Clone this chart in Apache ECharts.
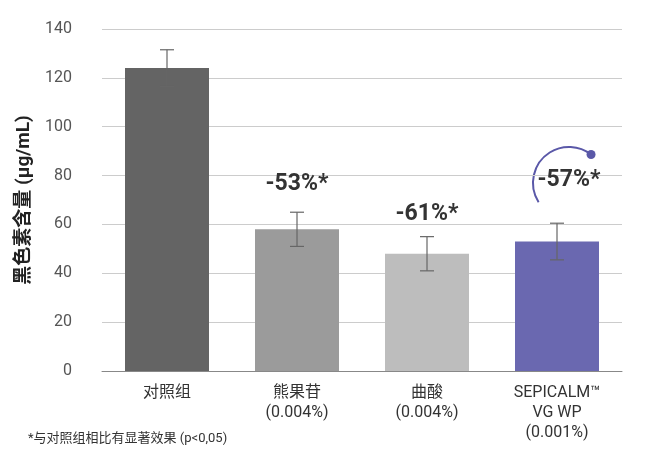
<!DOCTYPE html>
<html><head><meta charset="utf-8">
<script src="https://cdn.jsdelivr.net/npm/echarts@6/dist/echarts.min.js"></script>
<style>html,body{margin:0;background:#fff}#c{width:660px;height:470px}</style></head>
<body><div id="c"></div>
<script>
const categories = ['对照组', '熊果苷\n(0.004%)', '曲酸\n(0.004%)', 'SEPICALM™\nVG WP\n(0.001%)'];
const values = [124, 58, 48, 53];
const errors = [7.5, 7, 7, 7.5];
const labels = ['', '-53%*', '-61%*', '-57%*'];
const colors = ['#646464', '#9b9b9b', '#bdbdbd', '#6a68b0'];
const labelGap = [0, 34, 28, 50];
const labelShift = [0, 0, 0, 12];
const yTicks = [0, 20, 40, 60, 80, 100, 120, 140];

const chart = echarts.init(document.getElementById('c'));
const font = 'Roboto, "Noto Sans CJK SC", sans-serif';
chart.setOption({
  animation: false,
  grid: {left: 102, right: 38, top: 29, bottom: 99},
  xAxis: {type: 'category', data: categories,
    axisLine: {lineStyle: {color: '#888'}}, axisTick: {show: false},
    axisLabel: {color: '#333', fontSize: 16, fontFamily: font, lineHeight: 20, margin: 12}},
  yAxis: {type: 'value', min: 0, max: 140, interval: 20,
    name: '黑色素含量 (µg/mL)', nameLocation: 'middle', nameGap: 66,
    nameTextStyle: {fontSize: 19, fontWeight: 'bold', color: '#222', fontFamily: font},
    axisLabel: {color: '#555', fontSize: 16, fontFamily: font, margin: 30, formatter: v => yTicks.includes(v) ? v : ''},
    splitLine: {lineStyle: {color: '#ccc'}}, axisLine: {show: false}},
  series: [{
    type: 'bar', barWidth: 84,
    data: values.map((v, i) => ({value: v, itemStyle: {color: colors[i]},
      label: {distance: labelGap[i], offset: [labelShift[i], 0]}})),
    label: {show: true, position: 'top',
      formatter: p => labels[p.dataIndex], fontSize: 23, fontWeight: 'bold', color: '#333', fontFamily: font}
  }, {
    type: 'custom', z: 5,
    renderItem: (params, api) => {
      const i = api.value(0), v = values[i], e = errors[i];
      const hi = api.coord([i, v + e]), lo = api.coord([i, v - e]);
      const w = 7;
      const st = {stroke: '#666', lineWidth: 1.2};
      return {type: 'group', children: [
        {type: 'line', shape: {x1: hi[0], y1: hi[1], x2: lo[0], y2: lo[1]}, style: st},
        {type: 'line', shape: {x1: hi[0]-w, y1: hi[1], x2: hi[0]+w, y2: hi[1]}, style: st},
        {type: 'line', shape: {x1: lo[0]-w, y1: lo[1], x2: lo[0]+w, y2: lo[1]}, style: st}
      ]};
    },
    data: values.map((v, i) => [i])
  }],
  graphic: [{type: 'text', left: 28, top: 432,
    style: {text: '*与对照组相比有显著效果 (p<0,05)', fontSize: 13, fill: '#333', fontFamily: font}}]
});
const c = chart.convertToPixel({xAxisIndex: 0, yAxisIndex: 0}, [3, values[3] + 24]);
const cx = c[0] + 12, cy = c[1], r = 36;
const a1 = Math.PI * 0.82, a2 = Math.PI * 1.71;
chart.setOption({graphic: [{type: 'text', left: 28, top: 432,
    style: {text: '*与对照组相比有显著效果 (p<0,05)', fontSize: 13, fill: '#333', fontFamily: font}},
  {type: 'arc', shape: {cx, cy, r, startAngle: a1, endAngle: a2}, style: {stroke: '#5a58a8', lineWidth: 2, fill: null}},
  {type: 'circle', shape: {cx: cx + r*Math.cos(a2), cy: cy + r*Math.sin(a2), r: 4.5}, style: {fill: '#5a58a8'}}
]});
</script></body></html>
